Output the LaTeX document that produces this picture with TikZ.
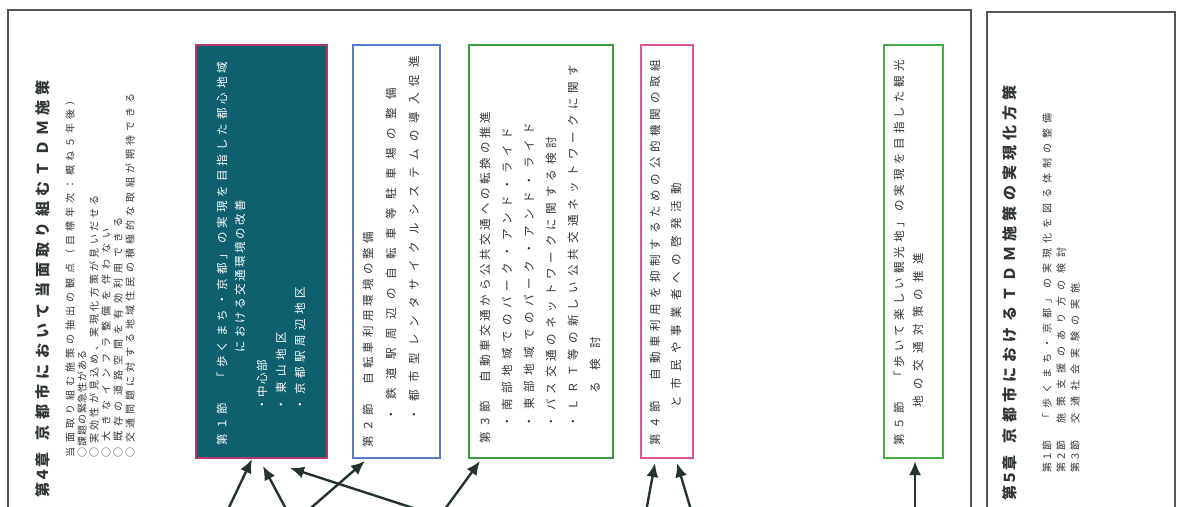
\documentclass[tikz,border=0pt]{standalone}
\usepackage{fontspec}
\newfontfamily\jp{Noto Sans CJK JP}
\usetikzlibrary{arrows.meta}
\definecolor{framegray}{HTML}{505555}
\definecolor{tealfill}{HTML}{0D606C}
\definecolor{bonec}{HTML}{B0386E}
\definecolor{btwoc}{HTML}{5A7CC8}
\definecolor{bthreec}{HTML}{3C9A40}
\definecolor{bfourc}{HTML}{E0559A}
\definecolor{bfivec}{HTML}{48AA48}
\definecolor{arrowc}{HTML}{243232}
\definecolor{txt}{HTML}{303535}
\ExplSyntaxOn
\NewDocumentCommand\jspread{mm}{\hbox_to_wd:nn{#1}{\skip_horizontal:n{0pt~plus~-1fil}\tl_map_inline:nn{#2}{\hfil ##1}}}
\ExplSyntaxOff
\tikzset{
  vt/.style={rotate=90, anchor=west, inner sep=0pt, outer sep=0pt, text=txt},
  ttl/.style={vt, font=\jp\bfseries\fontsize{15}{17}\selectfont},
  sm/.style={vt, font=\jp\fontsize{10}{11}\selectfont},
  bx/.style={vt, font=\jp\fontsize{11.5}{13}\selectfont},
  secbox/.style={draw, line width=2pt, inner sep=0pt, fill=white},
  arr/.style={arrowc, line width=2.4pt, -{Latex[length=14pt,width=12pt]}},
  frame/.style={framegray, line width=1.4pt}
}
\begin{document}
\begin{tikzpicture}[x=1pt,y=-1pt]
\useasboundingbox (0,0) rectangle (1183,506);
\clip (0,0) rectangle (1183,506);
\fill[white] (0,0) rectangle (1183,506);
% chapter frames
\draw[frame] (8,530) |- (971,10) -- (971,530);
\draw[frame] (987,530) |- (1175,12) -- (1175,530);
% chapter 4 heading
\node[ttl] (c4t) at (43,497) {\jspread{45pt}{第４章}\hspace{12pt}\jspread{360pt}{京都市において当面取り組むＴＤＭ施策}};
\node[sm] (c4a) at (70,457) {\jspread{362pt}{当面取り組む施策の抽出の観点（目標年次：概ね５年後）}};
\node[sm] (c4b) at (82,457) {\jspread{107pt}{○課題の緊急性がある}};
\node[sm] (c4c) at (94,457) {\jspread{262pt}{○実効性が見込め、実現化方策が見いだせる}};
\node[sm] (c4d) at (106,457) {\jspread{229pt}{○大きなインフラ整備を伴わない}};
\node[sm] (c4e) at (118,457) {\jspread{240pt}{○既存の道路空間を有効利用できる}};
\node[sm] (c4f) at (130,457) {\jspread{364pt}{○交通問題に対する地域住民の積極的な取組が期待できる}};
% section boxes
\node[secbox, draw=bonec, fill=tealfill, minimum width=131pt, minimum height=413pt] (b1) at (261.5,251.5) {};
\node[secbox, draw=btwoc, minimum width=87pt, minimum height=413pt] (b2) at (396.5,251.5) {};
\node[secbox, draw=bthreec, minimum width=144pt, minimum height=413pt] (b3) at (541,251.5) {};
\node[secbox, draw=bfourc, minimum width=52pt, minimum height=413pt] (b4) at (667,251.5) {};
\node[secbox, draw=bfivec, minimum width=59pt, minimum height=413pt] (b5) at (913.5,251.5) {};
% box 1 text
\node[bx, text=white] (b1a) at (222,445) {\jspread{383pt}{第１節　「歩くまち・京都」の実現を目指した都心地域}};
\node[bx, text=white] (b1b) at (240,352) {\jspread{152pt}{における交通環境の改善}};
\node[bx, text=white] (b1c) at (262,410) {\jspread{50pt}{・中心部}};
\node[bx, text=white] (b1d) at (281,410) {\jspread{78pt}{・東山地区}};
\node[bx, text=white] (b1e) at (300,410) {\jspread{123pt}{・京都駅周辺地区}};
% box 2 text
\node[bx] (b2a) at (368,447) {\jspread{215pt}{第２節　自転車利用環境の整備}};
\node[bx] (b2b) at (391,420) {\jspread{332pt}{・鉄道駅周辺の自転車等駐車場の整備}};
\node[bx] (b2c) at (414,420) {\jspread{364pt}{・都市型レンタサイクルシステムの導入促進}};
% box 3 text
\node[bx] (b3a) at (485,443) {\jspread{331pt}{第３節　自動車交通から公共交通への転換の推進}};
\node[bx] (b3b) at (507,427) {\jspread{299pt}{・南部地域でのパーク・アンド・ライド}};
\node[bx] (b3c) at (529,427) {\jspread{304pt}{・東部地域でのパーク・アンド・ライド}};
\node[bx] (b3d) at (551,427) {\jspread{290pt}{・バス交通のネットワークに関する検討}};
\node[bx] (b3e) at (573,427) {\jspread{362pt}{・ＬＲＴ等の新しい公共交通ネットワークに関す}};
\node[bx] (b3f) at (595,393) {\jspread{56pt}{る検討}};
% box 4 text
\node[bx] (b4a) at (655,445) {\jspread{385pt}{第４節　自動車利用を抑制するための公的機関の取組}};
\node[bx] (b4b) at (676,407) {\jspread{224pt}{と市民や事業者への啓発活動}};
% box 5 text
\node[bx] (b5a) at (899,445) {\jspread{385pt}{第５節　「歩いて楽しい観光地」の実現を目指した観光}};
\node[bx] (b5b) at (918,407) {\jspread{154pt}{地の交通対策の推進}};
% chapter 5
\node[ttl] (c5t) at (1010,500) {\jspread{45pt}{第５章}\hspace{12pt}\jspread{358pt}{京都市におけるＴＤＭ施策の実現化方策}};
\node[sm] (c5a) at (1047,472) {\jspread{32pt}{第１節}\hspace{17pt}\jspread{310pt}{「歩くまち・京都」の実現化を図る体制の整備}};
\node[sm] (c5b) at (1061,472) {\jspread{32pt}{第２節}\hspace{17pt}\jspread{176pt}{施策支援のあり方の検討}};
\node[sm] (c5c) at (1075,472) {\jspread{32pt}{第３節}\hspace{17pt}\jspread{140pt}{交通社会実験の実施}};
% arrows
\coordinate (t1) at (223,520);
\coordinate (t2) at (292,520);
\coordinate (t3) at (450,520);
\coordinate (t4) at (297,520);
\coordinate (t5) at (437,520);
\coordinate (t6) at (644.5,520);
\coordinate (t7) at (694,520);
\coordinate (t8) at (915,520);
\draw[arr] (t1) -- ([xshift=-9.5pt]b1.south);
\draw[arr] (t2) -- ([xshift=1.5pt,yshift=-7pt]b1.south);
\draw[arr] (t3) -- ([xshift=28.5pt,yshift=-9pt]b1.south);
\draw[arr] (t4) -- ([xshift=-31.5pt,yshift=-2pt]b2.south);
\draw[arr] (t5) -- ([xshift=-61pt,yshift=-2pt]b3.south);
\draw[arr] (t6) -- ([xshift=-12pt,yshift=-4pt]b4.south);
\draw[arr] (t7) -- ([xshift=10pt,yshift=-4pt]b4.south);
\draw[arr] (t8) -- ([xshift=1.5pt,yshift=-2pt]b5.south);
\end{tikzpicture}
\end{document}
